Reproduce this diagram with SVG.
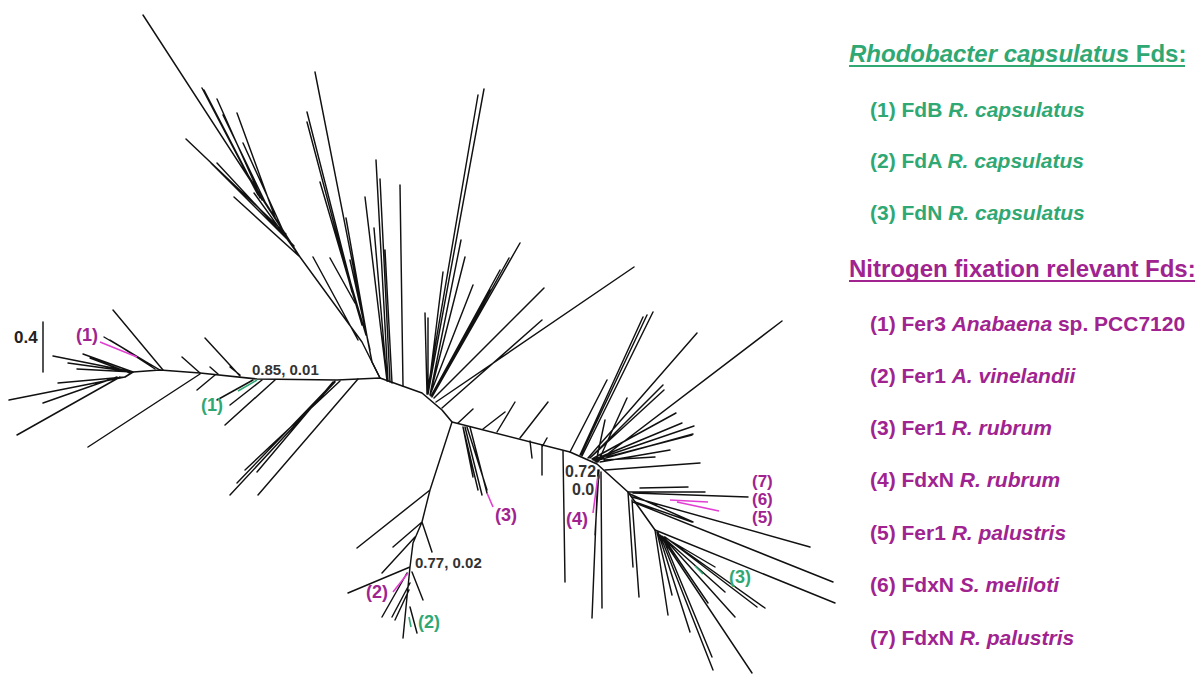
<svg xmlns="http://www.w3.org/2000/svg" width="1197" height="674" viewBox="0 0 1197 674">
<style>
.br{stroke:#111;stroke-width:1.45;fill:none;stroke-linecap:round;stroke-linejoin:round}
.bb{stroke:#111;stroke-width:1.6;fill:none;stroke-linejoin:round}
.mg{stroke:#e23fd2;stroke-width:1.6;fill:none}
.gr{stroke:#2fa873;stroke-width:1.6;fill:none}
text{font-family:"Liberation Sans",Arial,sans-serif;font-weight:bold}
.sup{font-size:15px;fill:#333}
.lm{font-size:18px;fill:#a0238f}
.lg{font-size:18px;fill:#2fa873}
.ls{font-size:17px;fill:#a0238f}
.tg{font-size:24px;fill:#2fa873}
.tm{font-size:24px;fill:#a0238f}
.ig{font-size:21px;fill:#2fa873}
.im{font-size:21px;fill:#a0238f}
</style>
<rect width="1197" height="674" fill="#fff"/>
<g id="tree">
<path class="bb" d="M125 377 L133 372 L160 370 L200 373 L257 379 L337 380 L380 378 L422 393 L442 410 L452 422 L570 452 L597 464 L628 492 L655 530"/>
<path id="cladeA" class="br" d="M380 378 L362 342 L300 257 L143 15 M258 195 L202 88 M260 198 L204 90 M262 200 L217 99 M268 208 L223 115 M276 220 L237 113 M285 235 L243 143 M286 234 L186 139 M293 245 L211 163 M294 246 L217 163 M300 257 L246 172 M300 257 L254 193 M300 257 L234 197 M358 340 L313 257 M355 303 L330 258"/>
<path id="cladeB" class="br" d="M380 378 L372 362 L315 72 M355 300 L307 112 M352 292 L307 122 M362 325 L320 182 M368 342 L346 218 M366 335 L338 240 M370 350 L350 260"/>
<path id="cladeC" class="br" d="M387 381 L365 197 M388 381 L376 160 M390 382 L380 179 M387 381 L374 228 M403 386 L400 185 M392 383 L385 250"/>
<path id="cladeD" class="br" d="M428 394 L484 89 M427 394 L478 95 M430 395 L461 240 M430 395 L465 257 M428 394 L443 272 M430 395 L473 285 M427 394 L425 313 M428 394 L428 318 M432 397 L520 243 M432 397 L509 258 M434 398 L544 288 M442 408 L542 320 M436 402 L634 267 M431 396 L500 270 M431 396 L490 290"/>
<path id="spine" class="br" d="M458 423 L473 409 M483 429 L505 412 M497 432 L515 402 M520 438 L548 402 M542 447 L547 438 M530 441 L532 458 M542 445 L542 475 M563 451 L565 582 M570 452 L607 380"/>
<path id="clade3" class="br" d="M463 427 L478 490 M467 427 L487 490 M463 427 L473 477 M470 427 L487 493 M465 427 L482 495"/>
<path class="mg" d="M487 493 L493 507"/>
<path id="clade2" class="br" d="M452 422 L430 490 L422 522 L413 543 L410 567 L407 597 L403 638 M430 490 L357 548 M422 522 L393 547 M422 522 L432 552 M415 537 L382 573 M410 567 L348 593 M407 573 L382 617 M410 583 L392 617 M412 572 L423 600 M410 607 L417 633 M409 590 L395 620"/>
<path class="mg" d="M393 592 L408 573"/>
<path class="gr" d="M409 617 L411 627"/>
<path id="clade4" class="br" d="M598 470 L592 618 M601 472 L602 608 M599 470 L595 535"/>
<path class="mg" d="M598 476 L593 513"/>
<path id="clade567" class="br" d="M628 492 L705 492 M640 488 L688 487 M633 493 L748 497 M630 494 L693 522 M635 502 L692 522 M628 492 L633 567 M632 500 L639 597 M632 497 L810 547 M633 502 L833 582 M655 530 L835 603"/>
<path class="mg" d="M670 500 L708 502 M677 502 L719 511"/>
<path id="cladeN" class="br" d="M655 530 L668 615 M657 532 L672 595 M658 532 L690 632 M660 535 L713 670 M660 535 L752 673 M662 536 L712 657 M665 537 L765 608 M665 537 L757 607 M664 538 L735 617 M664 538 L725 592 M663 537 L708 603 M664 537 L715 567"/>
<path class="gr" d="M695 566 L703 574"/>
<path id="cladeUR" class="br" d="M580 455 L643 317 M581 455 L647 315 M582 456 L653 312 M588 458 L697 333 M597 462 L782 321 M590 458 L663 385 M590 458 L664 390 M592 459 L676 413 M593 460 L682 423 M594 460 L694 426 M595 461 L693 434 M600 462 L670 450 M604 460 L655 457 M598 462 L627 398 M596 462 L605 420 M605 470 L700 463 M607 457 L692 435"/>
<path id="cladeL" class="br" d="M133 372 L53 356 M133 372 L83 354 M133 372 L77 369 M133 372 L68 363 M130 373 L90 358 M125 377 L9 400 M125 377 L58 383 M120 377 L17 435 M117 377 L43 403 M200 374 L88 447 M163 370 L113 310 M160 370 L104 337 M158 369 L110 340 M155 369 L118 345 M152 366 L137 357 M182 357 L200 373 M240 376 L205 338 M218 374 L210 367 M240 375 L230 367 M215 375 L197 390 M253 380 L217 400 M262 380 L230 405 M275 380 L225 425 M335 381 L237 483 M335 382 L230 495 M333 382 L257 472 M358 379 L258 495 M340 381 L245 470"/>
<path class="mg" d="M100 342 L137 357"/>
<path class="gr" d="M238 391 L257 380"/>
<path id="scale" class="br" d="M43 322 L43 372"/>
</g>
<g id="tree-labels">
<text x="14" y="343" style="font-size:17px;fill:#222">0.4</text>
<text class="lm" x="76" y="341">(1)</text>
<text class="lg" x="201" y="411">(1)</text>
<text class="sup" x="252" y="375">0.85, 0.01</text>
<text class="sup" x="415" y="568">0.77, 0.02</text>
<text class="lm" x="366" y="598">(2)</text>
<text class="lg" x="418" y="628">(2)</text>
<text class="lm" x="495" y="521">(3)</text>
<text class="lm" x="566" y="525">(4)</text>
<text class="sup" x="565" y="477" style="font-size:16px">0.72,</text>
<text class="sup" x="572" y="495" style="font-size:16px">0.0</text>
<text class="ls" x="752" y="487">(7)</text>
<text class="ls" x="752" y="505">(6)</text>
<text class="ls" x="752" y="523">(5)</text>
<text class="lg" x="729" y="583">(3)</text>
</g>
<g id="legend">
<text class="tg" x="849" y="62"><tspan font-style="italic">Rhodobacter capsulatus</tspan> Fds:</text>
<line x1="849" y1="66" x2="1185" y2="66" stroke="#2fa873" stroke-width="2"/>
<text class="ig" x="870" y="117">(1) FdB <tspan font-style="italic">R. capsulatus</tspan></text>
<text class="ig" x="870" y="168">(2) FdA <tspan font-style="italic">R. capsulatus</tspan></text>
<text class="ig" x="870" y="220">(3) FdN <tspan font-style="italic">R. capsulatus</tspan></text>
<text class="tm" x="849" y="277">Nitrogen fixation relevant Fds:</text>
<line x1="849" y1="281" x2="1195" y2="281" stroke="#a0238f" stroke-width="2"/>
<text class="im" x="870" y="331">(1) Fer3 <tspan font-style="italic">Anabaena</tspan> sp. PCC7120</text>
<text class="im" x="870" y="383">(2) Fer1 <tspan font-style="italic">A. vinelandii</tspan></text>
<text class="im" x="870" y="435">(3) Fer1 <tspan font-style="italic">R. rubrum</tspan></text>
<text class="im" x="870" y="487">(4) FdxN <tspan font-style="italic">R. rubrum</tspan></text>
<text class="im" x="870" y="540">(5) Fer1 <tspan font-style="italic">R. palustris</tspan></text>
<text class="im" x="870" y="592">(6) FdxN <tspan font-style="italic">S. meliloti</tspan></text>
<text class="im" x="870" y="645">(7) FdxN <tspan font-style="italic">R. palustris</tspan></text>
</g>
</svg>
